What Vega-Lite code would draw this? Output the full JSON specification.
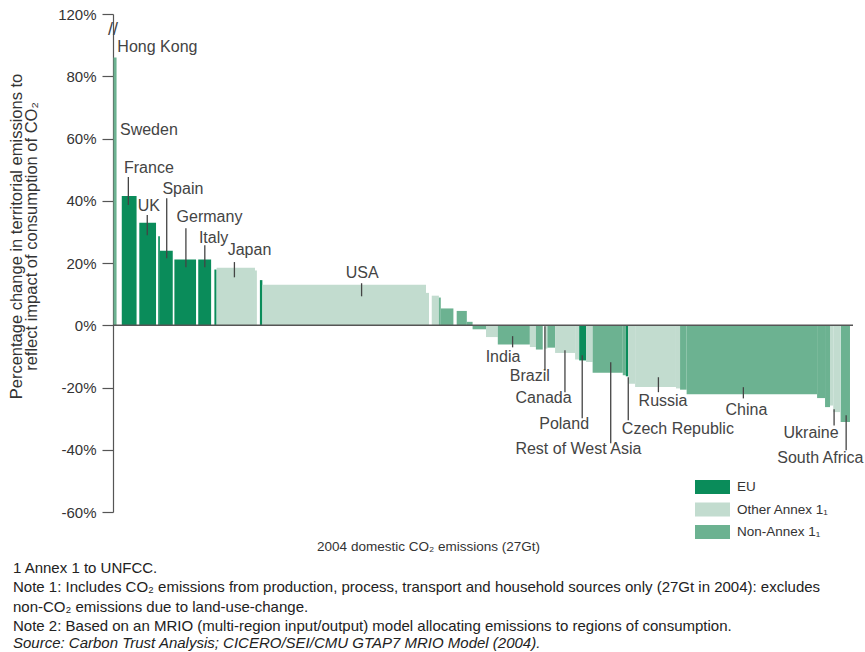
{
  "$schema": "https://vega.github.io/schema/vega-lite/v6.json",
  "width": 740,
  "height": 498,
  "autosize": {"type": "none"},
  "padding": {"left": 113, "top": 14, "right": 12, "bottom": 140},
  "background": "white",
  "config": {"view": {"stroke": null}, "font": "Liberation Sans"},
  "datasets": {
    "bars": [
      {"country": "Hong Kong", "group": "Non-Annex 1₁", "start": 0.02, "end": 0.13, "change": 86},
      {"country": "France", "group": "EU", "start": 0.32, "end": 0.86, "change": 41.5},
      {"country": "UK", "group": "EU", "start": 0.96, "end": 1.57, "change": 32.9},
      {"country": "Other EU", "group": "EU", "start": 1.65, "end": 1.71, "change": 28.6},
      {"country": "Spain", "group": "EU", "start": 1.71, "end": 2.18, "change": 23.9},
      {"country": "Germany", "group": "EU", "start": 2.24, "end": 3.03, "change": 21.1},
      {"country": "Italy", "group": "EU", "start": 3.11, "end": 3.58, "change": 21.1},
      {"country": "Other EU", "group": "EU", "start": 3.70, "end": 3.78, "change": 17.9},
      {"country": "Japan", "group": "Other Annex 1₁", "start": 3.78, "end": 5.18, "change": 18.5},
      {"country": "Other", "group": "Other Annex 1₁", "start": 5.18, "end": 5.25, "change": 17.6},
      {"country": "Other EU", "group": "EU", "start": 5.36, "end": 5.45, "change": 14.5},
      {"country": "USA", "group": "Other Annex 1₁", "start": 5.45, "end": 11.42, "change": 13.0},
      {"country": "Other", "group": "Other Annex 1₁", "start": 11.42, "end": 11.53, "change": 10.4},
      {"country": "Other", "group": "Other Annex 1₁", "start": 11.63, "end": 11.89, "change": 9.5},
      {"country": "Other", "group": "Non-Annex 1₁", "start": 11.89, "end": 11.96, "change": 8.9},
      {"country": "Other", "group": "Non-Annex 1₁", "start": 11.96, "end": 12.42, "change": 5.4},
      {"country": "Other", "group": "Non-Annex 1₁", "start": 12.54, "end": 12.91, "change": 4.6},
      {"country": "Other", "group": "Non-Annex 1₁", "start": 12.91, "end": 13.12, "change": 1.1},
      {"country": "Other", "group": "Non-Annex 1₁", "start": 13.12, "end": 13.61, "change": -1.3},
      {"country": "Other", "group": "Other Annex 1₁", "start": 13.61, "end": 14.04, "change": -3.8},
      {"country": "India", "group": "Non-Annex 1₁", "start": 14.04, "end": 15.21, "change": -6.2},
      {"country": "Other", "group": "Other Annex 1₁", "start": 15.21, "end": 15.43, "change": -7.0},
      {"country": "Other", "group": "Non-Annex 1₁", "start": 15.43, "end": 15.68, "change": -7.8},
      {"country": "Other", "group": "Other Annex 1₁", "start": 15.74, "end": 15.85, "change": -7.5},
      {"country": "Brazil", "group": "Non-Annex 1₁", "start": 15.85, "end": 16.13, "change": -7.2},
      {"country": "Canada", "group": "Other Annex 1₁", "start": 16.13, "end": 16.86, "change": -8.9},
      {"country": "Other", "group": "Other Annex 1₁", "start": 16.86, "end": 17.01, "change": -11.0},
      {"country": "Poland", "group": "EU", "start": 17.01, "end": 17.26, "change": -11.3},
      {"country": "Other", "group": "Other Annex 1₁", "start": 17.26, "end": 17.50, "change": -11.8},
      {"country": "Rest of West Asia", "group": "Non-Annex 1₁", "start": 17.50, "end": 18.60, "change": -15.3},
      {"country": "Other", "group": "Non-Annex 1₁", "start": 18.60, "end": 18.71, "change": -16.1},
      {"country": "Czech Republic", "group": "EU", "start": 18.71, "end": 18.80, "change": -16.4},
      {"country": "Other", "group": "Other Annex 1₁", "start": 18.80, "end": 19.05, "change": -18.8},
      {"country": "Russia", "group": "Other Annex 1₁", "start": 19.05, "end": 20.54, "change": -19.8},
      {"country": "Other", "group": "Other Annex 1₁", "start": 20.54, "end": 20.69, "change": -20.3},
      {"country": "Other", "group": "Non-Annex 1₁", "start": 20.69, "end": 20.93, "change": -20.7},
      {"country": "China", "group": "Non-Annex 1₁", "start": 20.93, "end": 25.69, "change": -22.2},
      {"country": "Other", "group": "Non-Annex 1₁", "start": 25.69, "end": 25.98, "change": -23.4},
      {"country": "Other", "group": "Non-Annex 1₁", "start": 25.98, "end": 26.16, "change": -26.3},
      {"country": "Other", "group": "Other Annex 1₁", "start": 26.16, "end": 26.28, "change": -25.8},
      {"country": "Ukraine", "group": "Other Annex 1₁", "start": 26.28, "end": 26.53, "change": -27.9},
      {"country": "South Africa", "group": "Non-Annex 1₁", "start": 26.55, "end": 26.89, "change": -31.1}
    ],
    "labels": [
      {"name": "Hong Kong", "lx": 1.62, "ly": 89.4},
      {"name": "Sweden", "lx": 1.31, "ly": 62.7},
      {"name": "France", "lx": 1.31, "ly": 50.5, "rx": 0.56, "ry1": 47.6, "ry2": 38.6},
      {"name": "UK", "lx": 1.31, "ly": 38.3, "rx": 1.25, "ry1": 35.4, "ry2": 28.9},
      {"name": "Spain", "lx": 2.55, "ly": 43.7, "rx": 1.96, "ry1": 40.8, "ry2": 21.5},
      {"name": "Germany", "lx": 3.52, "ly": 34.7, "rx": 2.66, "ry1": 31.2, "ry2": 18.6},
      {"name": "Italy", "lx": 3.67, "ly": 28.0, "rx": 3.35, "ry1": 25.7, "ry2": 18.6},
      {"name": "Japan", "lx": 4.98, "ly": 24.1, "rx": 4.43, "ry1": 20.3, "ry2": 15.4},
      {"name": "USA", "lx": 9.09, "ly": 16.7, "rx": 9.07, "ry1": 13.5, "ry2": 9.3},
      {"name": "India", "lx": 14.23, "ly": -10.3, "rx": 14.58, "ry1": -3.5, "ry2": -7.1},
      {"name": "Brazil", "lx": 15.21, "ly": -16.4, "rx": 15.76, "ry1": -0.3, "ry2": -14.5},
      {"name": "Canada", "lx": 15.71, "ly": -23.5, "rx": 16.49, "ry1": -8.0, "ry2": -21.5},
      {"name": "Poland", "lx": 16.46, "ly": -31.8, "rx": 17.12, "ry1": -9.6, "ry2": -29.9},
      {"name": "Rest of West Asia", "lx": 16.98, "ly": -39.9, "rx": 18.16, "ry1": -11.9, "ry2": -37.9},
      {"name": "Czech Republic", "lx": 20.61, "ly": -33.4, "rx": 18.80, "ry1": -16.7, "ry2": -30.5},
      {"name": "Russia", "lx": 20.07, "ly": -24.4, "rx": 19.90, "ry1": -16.7, "ry2": -21.5},
      {"name": "China", "lx": 23.11, "ly": -27.3, "rx": 23.00, "ry1": -19.9, "ry2": -23.5},
      {"name": "Ukraine", "lx": 25.47, "ly": -34.7, "rx": 26.31, "ry1": -27.0, "ry2": -32.2},
      {"name": "South Africa", "lx": 25.81, "ly": -42.8, "rx": 26.75, "ry1": -28.9, "ry2": -40.2}
    ]
  },
  "title": {
    "text": [
      "1 Annex 1 to UNFCC.",
      "Note 1: Includes CO₂ emissions from production, process, transport and household sources only (27Gt in 2004): excludes",
      "non-CO₂ emissions due to land-use-change.",
      "Note 2: Based on an MRIO (multi-region input/output) model allocating emissions to regions of consumption."
    ],
    "subtitle": "Source: Carbon Trust Analysis; CICERO/SEI/CMU GTAP7 MRIO Model (2004).",
    "orient": "bottom",
    "anchor": "start",
    "frame": "group",
    "dx": -100,
    "offset": 8,
    "font": "Liberation Sans",
    "fontSize": 15,
    "fontWeight": "normal",
    "color": "#222",
    "lineHeight": 19.5,
    "subtitleFont": "Liberation Sans",
    "subtitleFontSize": 15,
    "subtitleFontStyle": "italic",
    "subtitleColor": "#222",
    "subtitlePadding": 2
  },
  "layer": [
    {
      "data": {"name": "bars"},
      "mark": {"type": "rect"},
      "encoding": {
        "x": {
          "field": "start", "type": "quantitative",
          "scale": {"domain": [0, 27], "nice": false, "zero": false},
          "axis": {
            "title": "2004 domestic CO₂ emissions (27Gt)",
            "domain": false, "ticks": false, "labels": false, "grid": false,
            "titleX": 315, "titleY": 34, "titleBaseline": "middle",
            "titleFontSize": 13.5, "titleFontWeight": "normal", "titleColor": "#333"
          }
        },
        "x2": {"field": "end"},
        "y": {
          "field": "change", "type": "quantitative",
          "scale": {"domain": [-60, 100], "nice": false},
          "axis": {
            "values": [-60, -40, -20, 0, 20, 40, 60, 80, 100],
            "labelExpr": "datum.value == 100 ? '120%' : datum.value + '%'",
            "grid": false,
            "domainColor": "#555", "domainWidth": 1.2,
            "tickColor": "#555", "tickSize": 11, "tickWidth": 1.2,
            "labelFontSize": 15, "labelColor": "#333", "labelPadding": 6,
            "title": ["Percentage change in territorial emissions to", "reflect impact of consumption of CO₂"],
            "titleFontSize": 16.5, "titleFontWeight": "normal", "titleColor": "#333",
            "titleX": -89, "titleY": 222, "titleAngle": 270, "titleLineHeight": 15
          }
        },
        "y2": {"datum": 0},
        "color": {
          "field": "group", "type": "nominal",
          "scale": {
            "domain": ["EU", "Other Annex 1₁", "Non-Annex 1₁"],
            "range": ["#0a8c5a", "#c2dccf", "#6cb291"]
          },
          "legend": {
            "orient": "none", "legendX": 592.5, "legendY": 466,
            "title": null,
            "symbolType": "M-2.5,-1H2.5V1H-2.5Z",
            "symbolSize": 196,
            "symbolStrokeWidth": 0,
            "symbolOpacity": 1,
            "labelFontSize": 13.5, "labelColor": "#333",
            "labelOffset": 17.5, "rowPadding": 8.5, "padding": 0
          }
        }
      }
    },
    {
      "data": {"values": [{}]},
      "mark": {"type": "rule", "color": "#555", "strokeWidth": 1.5},
      "encoding": {"y": {"datum": 0}}
    },
    {
      "data": {"name": "labels"},
      "transform": [{"filter": "isValid(datum.rx)"}],
      "mark": {"type": "rule", "color": "#444", "strokeWidth": 1.3},
      "encoding": {
        "x": {"field": "rx", "type": "quantitative"},
        "y": {"field": "ry1", "type": "quantitative"},
        "y2": {"field": "ry2"}
      }
    },
    {
      "data": {"name": "labels"},
      "mark": {"type": "text", "fontSize": 16, "color": "#444", "align": "center", "baseline": "middle"},
      "encoding": {
        "x": {"field": "lx", "type": "quantitative"},
        "y": {"field": "ly", "type": "quantitative"},
        "text": {"field": "name"}
      }
    },
    {
      "data": {"values": [{}]},
      "mark": {"type": "text", "text": "//", "fontSize": 18, "color": "#444", "align": "center", "baseline": "middle"},
      "encoding": {"x": {"datum": 0}, "y": {"datum": 95}}
    }
  ]
}
